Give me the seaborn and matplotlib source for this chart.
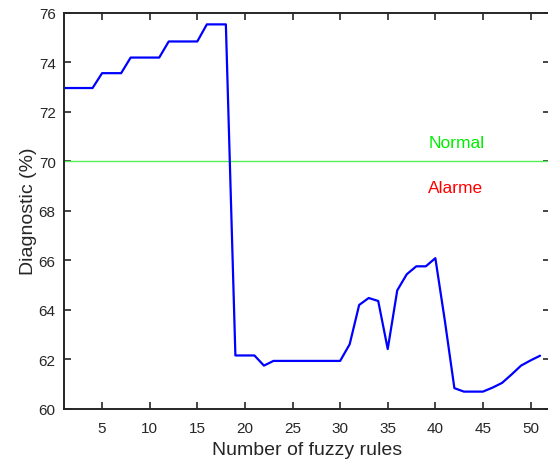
import matplotlib
matplotlib.use("Agg")
import matplotlib.pyplot as plt
import seaborn as sns
import pandas as pd

# ---- data ----
rules = list(range(1, 52))
diagnostic = [
    72.95, 72.95, 72.95, 72.95,          # 1-4
    73.55, 73.55, 73.55,                 # 5-7
    74.18, 74.18, 74.18, 74.18,          # 8-11
    74.83, 74.83, 74.83, 74.83,          # 12-15
    75.52, 75.52, 75.52,                 # 16-18
    62.15, 62.15, 62.15,                 # 19-21
    61.74,                               # 22
    61.93, 61.93, 61.93, 61.93, 61.93, 61.93, 61.93, 61.93,  # 23-30
    62.60, 64.19, 64.47, 64.35, 62.41,   # 31-35
    64.78, 65.43, 65.75, 65.75, 66.08,   # 36-40
    63.55, 60.83, 60.69, 60.69, 60.69,   # 41-45
    60.85, 61.04, 61.38, 61.74, 61.95,   # 46-50
    62.14,                               # 51
]
threshold = 70
x_ticks = [5, 10, 15, 20, 25, 30, 35, 40, 45, 50]
y_ticks = [60, 62, 64, 66, 68, 70, 72, 74, 76]
labels = {"Normal": (42.2, 70.73), "Alarme": (42.1, 68.95)}

df = pd.DataFrame({"rules": rules, "diag": diagnostic})

sns.set_theme(style="white")
plt.rcParams["font.family"] = ["Liberation Sans", "DejaVu Sans"]

W, H = 548, 460
fig = plt.figure(figsize=(W / 100, H / 100), dpi=100)
left, right, top, bottom = 64, 549.6, 13.5, 409.7
ax = fig.add_axes([left / W, 1 - bottom / H, (right - left) / W, (bottom - top) / H])

sns.lineplot(data=df, x="rules", y="diag", color="#0000ff", linewidth=1.6, ax=ax)
ax.axhline(threshold, color="#55ee55", linewidth=1.0, zorder=1)

for txt, (tx, ty) in labels.items():
    ax.text(tx, ty, txt, color="#00ee00" if txt == "Normal" else "#ff0000",
            fontsize=12.5, ha="center", va="center")

ax.set_xlim(1, 52)
ax.set_ylim(60, 76)
ax.set_xticks(x_ticks)
ax.set_yticks(y_ticks)

ax.tick_params(direction="in", length=5, width=1.2, colors="#262626",
               labelsize=11, top=True, right=True, bottom=True, left=True)
ax.tick_params(axis="x", pad=9)
ax.tick_params(axis="y", pad=6)
for sp in ax.spines.values():
    sp.set_color("#262626")
    sp.set_linewidth(1.4)

ax.set_xlabel("Number of fuzzy rules", fontsize=14, color="#262626", labelpad=4)
ax.set_ylabel("Diagnostic (%)", fontsize=14, color="#262626", labelpad=1)

fig.savefig("out.png", dpi=100)
